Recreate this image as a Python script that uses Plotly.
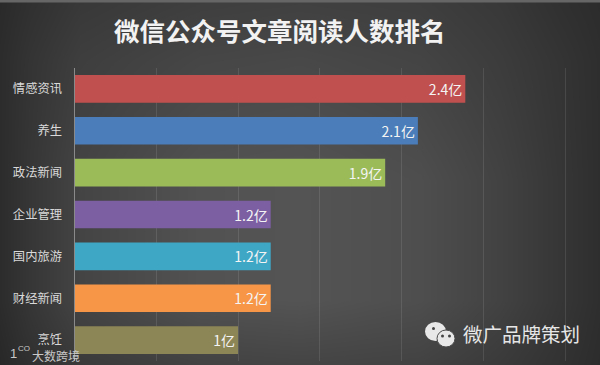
import plotly.graph_objects as go

CJK = "Noto Sans CJK SC"

categories = ["情感资讯", "养生", "政法新闻", "企业管理", "国内旅游", "财经新闻", "烹饪"]
values = [2.39, 2.1, 1.9, 1.2, 1.2, 1.2, 1.0]
value_labels = ["2.4亿", "2.1亿", "1.9亿", "1.2亿", "1.2亿", "1.2亿", "1亿"]
bar_colors = ["#c0504f", "#4a7db9", "#9bbb59", "#7c5ea3", "#3fa7c6", "#f79646", "#8c8556"]
title_text = "微信公众号文章阅读人数排名"
brand_text = "微广品牌策划"
mark_text = "大数跨境"

# background brightness (grey levels, top row first)
bg_x = [0, 30, 80, 200, 300, 420, 500, 560, 600]
bg_y = [0, 60, 180, 300, 365]
bg_grey = [
    [42, 48, 56, 62, 64, 62, 56, 48, 44],
    [44, 52, 62, 70, 72, 68, 60, 52, 46],
    [44, 54, 68, 82, 84, 78, 66, 54, 46],
    [44, 54, 68, 82, 84, 78, 66, 54, 46],
    [40, 48, 58, 66, 68, 66, 58, 50, 44],
]

W, H = 600, 365
fig = go.Figure()

fig.add_trace(go.Heatmap(
    x=bg_x, y=bg_y, z=bg_grey, zmin=0, zmax=255, zsmooth="best",
    colorscale=[[0, "rgb(0,0,0)"], [1, "rgb(255,255,255)"]],
    showscale=False, hoverinfo="skip", xaxis="x", yaxis="y",
))

fig.add_trace(go.Bar(
    y=categories, x=values, orientation="h",
    marker=dict(color=bar_colors, line=dict(width=0)),
    text=value_labels, textposition="inside", insidetextanchor="end",
    textangle=0, constraintext="none",
    textfont=dict(family=CJK, size=14, color="#f4f4f4"),
    xaxis="x2", yaxis="y2", hoverinfo="skip", width=0.66,
))

fig.update_layout(
    width=W, height=H, margin=dict(l=0, r=0, t=0, b=0),
    paper_bgcolor="#3c3c3c", plot_bgcolor="rgba(0,0,0,0)",
    showlegend=False,
    xaxis=dict(domain=[0, 1], range=[0, 600], visible=False),
    yaxis=dict(domain=[0, 1], range=[365, 0], visible=False),
    xaxis2=dict(
        domain=[74.5 / W, 568 / W], range=[0, 3.018], anchor="y2", dtick=0.5,
        showticklabels=False, showgrid=True, gridcolor="rgba(255,255,255,0.1)",
        gridwidth=1, zeroline=False, showline=False, ticks="",
    ),
    yaxis2=dict(
        domain=[1 - 361 / H, 1 - 68 / H], anchor="x2", autorange="reversed",
        categoryorder="array", categoryarray=categories,
        showgrid=False, zeroline=False, showline=True, linecolor="#8a8a8a", linewidth=1,
        ticks="", ticklabelstandoff=9,
        tickfont=dict(family=CJK, size=12.3, color="#d9d9d9"),
    ),
    annotations=[
        dict(text=f"<b>{title_text}</b>", xref="paper", yref="paper", x=280 / W, y=1 - 29 / H,
             xanchor="center", yanchor="middle", showarrow=False,
             font=dict(family=CJK, size=25.5, color="#f2f2f2")),
        dict(text=brand_text, xref="paper", yref="paper", x=461 / W, y=1 - 333 / H,
             xanchor="left", yanchor="middle", showarrow=False,
             font=dict(family=CJK, size=19.5, color="#e6e6e6")),
        dict(text=mark_text, xref="paper", yref="paper", x=30 / W, y=1 - 355 / H,
             xanchor="left", yanchor="middle", showarrow=False,
             font=dict(family=CJK, size=12, color="#c8c8c8")),
        dict(text="1", xref="paper", yref="paper", x=8 / W, y=1 - 353 / H,
             xanchor="left", yanchor="middle", showarrow=False,
             font=dict(family="Liberation Sans", size=13, color="#c8c8c8")),
        dict(text="CO", xref="paper", yref="paper", x=16 / W, y=1 - 348 / H,
             xanchor="left", yanchor="middle", showarrow=False,
             font=dict(family="Liberation Sans", size=8, color="#c8c8c8")),
    ],
    shapes=[
        dict(type="circle", xref="paper", yref="paper", x0=425 / W, x1=446 / W,
             y0=1 - 341 / H, y1=1 - 322 / H, fillcolor="#e8e8e8", line=dict(width=0)),
        dict(type="circle", xref="paper", yref="paper", x0=437 / W, x1=455 / W,
             y0=1 - 347 / H, y1=1 - 330 / H, fillcolor="#e8e8e8",
             line=dict(width=1, color="#4a4a4a")),
        dict(type="circle", xref="paper", yref="paper", x0=432 / W, x1=435 / W,
             y0=1 - 330 / H, y1=1 - 327 / H, fillcolor="#444444", line=dict(width=0)),
        dict(type="circle", xref="paper", yref="paper", x0=441 / W, x1=444 / W,
             y0=1 - 337.5 / H, y1=1 - 334.5 / H, fillcolor="#444444", line=dict(width=0)),
        dict(type="circle", xref="paper", yref="paper", x0=448 / W, x1=451 / W,
             y0=1 - 337.5 / H, y1=1 - 334.5 / H, fillcolor="#444444", line=dict(width=0)),
        dict(type="line", xref="paper", yref="paper", x0=0, x1=1, y0=1 - 1 / H, y1=1 - 1 / H,
             line=dict(color="#666666", width=3)),
    ],
)

fig.write_html("out.html", config={"displayModeBar": False},
               post_script="document.body.style.margin='0';document.body.style.overflow='hidden';")
